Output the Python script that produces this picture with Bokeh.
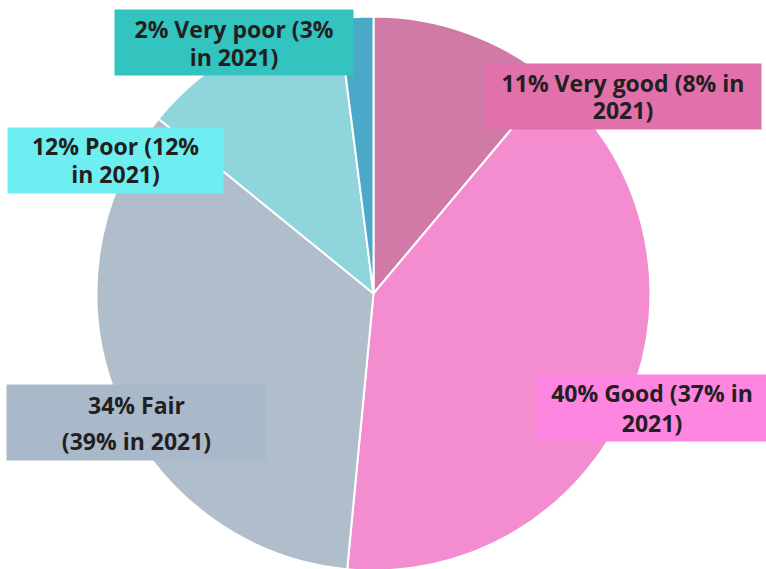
import math
from bokeh.plotting import figure
from bokeh.models import Range1d, ColumnDataSource
from bokeh.core.properties import value
from bokeh.embed import file_html
from bokeh.resources import INLINE

# ---- data ----
categories = ["Very good", "Good", "Fair", "Poor", "Very poor"]
share_2022 = [11, 40, 34, 12, 2]
share_2021 = [8, 37, 39, 12, 3]
words_first_line = [5, 4, 2, 3, 4]

# ---- styles / layout (screen pixels of the 766x569 page) ----
slice_colors = ["#d17aa8", "#f48dcf", "#b0bdcb", "#90d5db", "#4ba8c8"]
box_colors = ["#e071aa", "#ff86e0", "#a9b9c9", "#6eeef0", "#34c4c0"]
boxes = [(484, 63, 761, 129), (537, 374, 766, 441), (6, 384, 266, 460),
         (7, 127, 223, 193), (114, 9, 353, 75)]
line_y = [(82, 109), (392, 422), (404, 440), (145, 173), (28, 56)]
cx_screen, cy_screen, radius = 373, 293, 277

W, H = 766, 569
PAGE_H = 569


def sy(y):
    return PAGE_H - y


p = figure(width=W, height=H, output_backend="svg", toolbar_location=None,
           x_range=Range1d(0, W), y_range=Range1d(sy(H), sy(0)))
p.axis.visible = False
p.grid.visible = False
p.outline_line_color = None
p.min_border = 0
p.background_fill_color = "white"

total = sum(share_2022)
starts, ends = [], []
cum = 0
for v in share_2022:
    starts.append(math.pi / 2 - 2 * math.pi * cum / total)
    cum += v
    ends.append(math.pi / 2 - 2 * math.pi * cum / total)

src = ColumnDataSource(dict(cat=categories, start=starts, end=ends, color=slice_colors))
p.wedge(x=cx_screen, y=sy(cy_screen), radius=radius, start_angle="start", end_angle="end",
        direction="clock", fill_color="color", line_color="white", line_width=2, source=src)

# labels
l1, l2, xs, y1s, y2s = [], [], [], [], []
for i, cat in enumerate(categories):
    full = f"{share_2022[i]}% {cat} ({share_2021[i]}% in 2021)".split(" ")
    n = words_first_line[i]
    l1.append(" ".join(full[:n]))
    l2.append(" ".join(full[n:]))
    x0, y0, x1, y1 = boxes[i]
    xs.append((x0 + x1) / 2)
    y1s.append(sy(line_y[i][0]))
    y2s.append(sy(line_y[i][1]))

p.quad(left=[b[0] for b in boxes], right=[b[2] for b in boxes],
       top=[sy(b[1]) for b in boxes], bottom=[sy(b[3]) for b in boxes],
       fill_color=box_colors, line_color=None)

for ys, txt in ((y1s, l1), (y2s, l2)):
    p.text(x=xs, y=ys, text=txt, text_align="center", text_baseline="middle",
           text_font=value("Open Sans"), text_font_style="bold", text_font_size="23px",
           text_color="#231f20")

open("out.html", "w").write(file_html(p, INLINE))
